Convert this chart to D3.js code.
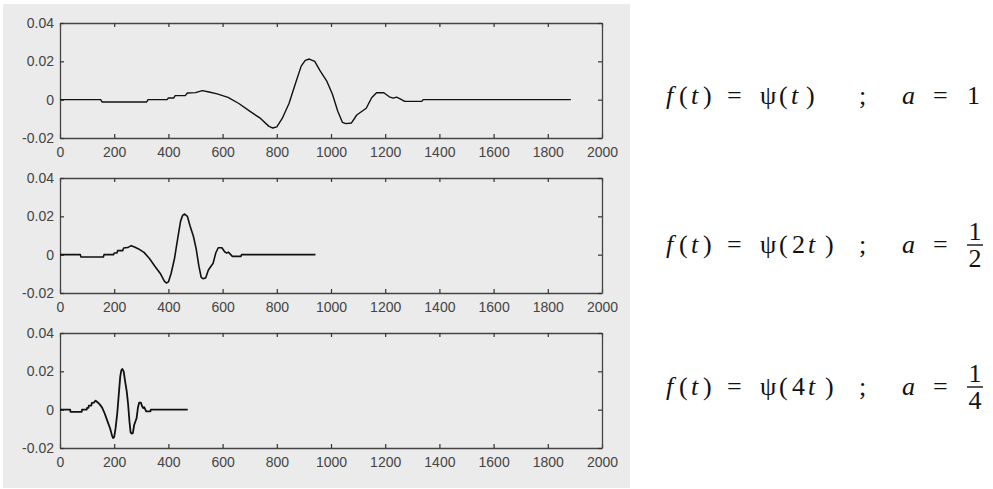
<!DOCTYPE html>
<html>
<head>
<meta charset="utf-8">
<script src="https://cdn.jsdelivr.net/npm/d3@7"></script>
<style>
  body { margin: 0; background: #fff; }
  .tick text { font-family: "Liberation Sans", Arial, sans-serif; font-size: 14px; fill: #444; }
  .formula { font-family: "Liberation Serif", "Times New Roman", serif; font-size: 26px; fill: #111; }
</style>
</head>
<body>
<script>
// wavelet samples, psi(t)
var tVals = [0, 150, 155, 320, 325, 395, 400, 420, 425, 462, 470, 500, 525, 550, 580, 620, 660,
    700, 740, 770, 785, 800, 820, 845, 870, 890, 905, 920, 940, 960, 985, 1005, 1025, 1042,
    1055, 1075, 1095, 1130, 1150, 1168, 1195, 1215, 1230, 1242, 1255, 1272, 1335, 1340, 1885];
var psiVals = [0, 0, -0.0012, -0.0012, 0, 0, 0.0009, 0.0009, 0.0021, 0.0021, 0.0035, 0.0037,
    0.0047, 0.0040, 0.0030, 0.0012, -0.0020, -0.0060, -0.0098, -0.0138, -0.0148, -0.0142,
    -0.0098, -0.0020, 0.0090, 0.0175, 0.0205, 0.0212, 0.0200, 0.0150, 0.0095, 0.0030, -0.0060,
    -0.0118, -0.0125, -0.0122, -0.0080, -0.0045, 0.0010, 0.0036, 0.0036, 0.0015, 0.0008,
    0.0013, 0.0004, -0.0009, -0.0009, 0, 0];

// dilation factor k in psi(k t), and a = 1/k
var dilations = [1, 2, 4];
var aNum = ["1", "1", "1"];
var aDen = [null, "2", "4"];

var xTicks = [0, 200, 400, 600, 800, 1000, 1200, 1400, 1600, 1800, 2000];
var yTicks = [-0.02, 0, 0.02, 0.04];

var width = 993, height = 489;
var svg = d3.select("body").append("svg")
    .attr("width", width)
    .attr("height", height);

// gray figure background
svg.append("rect")
    .attr("x", 3).attr("y", 4)
    .attr("width", 627).attr("height", 484)
    .attr("fill", "#ebebeb");

var plotLeft = 60, plotRight = 602;
var panelTops = [23, 178, 333];
var panelH = 115;

var x = d3.scaleLinear().domain([0, 2000]).range([plotLeft, plotRight]);

var yFmt = function(d) { return d === 0 ? "0" : d.toFixed(2); };

dilations.forEach(function(k, i) {
    var top = panelTops[i];
    var y = d3.scaleLinear().domain([-0.02, 0.04]).range([top + panelH, top]);

    var g = svg.append("g").attr("class", "panel");

    var axes = [
        { ax: d3.axisBottom(x).tickValues(xTicks).tickFormat(d3.format("d")).tickPadding(9), tr: [0, top + panelH] },
        { ax: d3.axisTop(x).tickValues(xTicks).tickFormat(""), tr: [0, top] },
        { ax: d3.axisLeft(y).tickValues(yTicks).tickFormat(yFmt).tickPadding(6), tr: [plotLeft, 0] },
        { ax: d3.axisRight(y).tickValues(yTicks).tickFormat(""), tr: [plotRight, 0] }
    ];
    axes.forEach(function(a) {
        var ag = g.append("g")
            .attr("transform", "translate(" + a.tr[0] + "," + a.tr[1] + ")")
            .call(a.ax.tickSizeInner(-4).tickSizeOuter(0));
        ag.select(".domain").attr("stroke", "#444").attr("stroke-width", 1.3);
        ag.selectAll(".tick line").attr("stroke", "#333").attr("stroke-width", 1.2);
    });

    var line = d3.line()
        .x(function(d, j) { return x(tVals[j] / k); })
        .y(function(d) { return y(d); });

    g.append("path")
        .datum(psiVals)
        .attr("d", line)
        .attr("fill", "none")
        .attr("stroke", "#111")
        .attr("stroke-width", 1.4 + i * 0.2)
        .attr("stroke-linejoin", "round");
});

// formulas on the right
var baselines = [104, 253, 395];
var rhsInner = ["", "2", "4"];

dilations.forEach(function(k, i) {
    var by = baselines[i];
    var t = svg.append("text").attr("class", "formula").attr("y", by);
    var pieces = [
        ["f", 666, true], ["(", 679], ["t", 691, true], [")", 703], ["=", 727],
        ["\u03c8", 760], ["(", 779]
    ];
    if (rhsInner[i]) {
        pieces.push([rhsInner[i], 792], ["t", 808, true], [")", 825]);
    } else {
        pieces.push(["t", 791, true], [")", 806]);
    }
    pieces.push([";", 859], ["a", 902, true], ["=", 933]);
    pieces.forEach(function(p) {
        t.append("tspan")
            .attr("x", p[1])
            .attr("font-style", p[2] ? "italic" : "normal")
            .text(p[0]);
    });

    if (aDen[i] === null) {
        t.append("tspan").attr("x", 967).text(aNum[i]);
    } else {
        var cx = 975;
        svg.append("text").attr("class", "formula")
            .attr("x", cx).attr("y", by - 13).attr("text-anchor", "middle").text(aNum[i]);
        svg.append("line")
            .attr("x1", cx - 8).attr("x2", cx + 8)
            .attr("y1", by - 8).attr("y2", by - 8)
            .attr("stroke", "#111").attr("stroke-width", 1.4);
        svg.append("text").attr("class", "formula")
            .attr("x", cx).attr("y", by + 14).attr("text-anchor", "middle").text(aDen[i]);
    }
});
</script>
</body>
</html>
